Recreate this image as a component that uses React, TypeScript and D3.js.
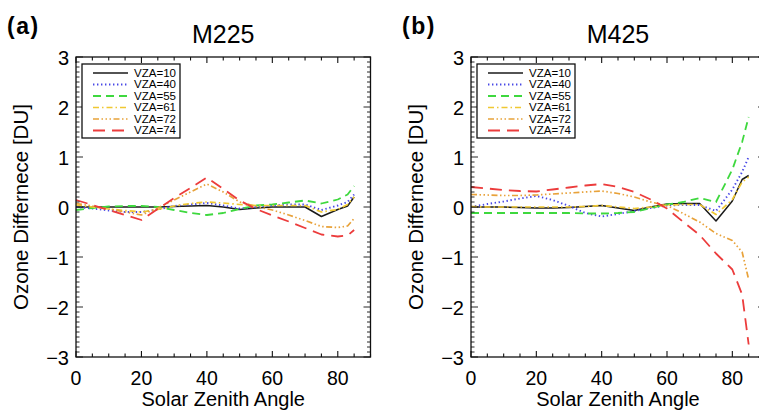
import * as d3 from "d3";

// chart size
const width = 759;
const height = 411;
const yTop = 57;
const yBottom = 357;

// x positions where the difference was sampled (deg)
const sza = [0, 5, 10, 15, 20, 25, 30, 35, 40, 45, 50, 55, 60, 65, 70, 75, 80, 83, 85];
const vzaLabels = ["VZA=10", "VZA=40", "VZA=55", "VZA=61", "VZA=72", "VZA=74"];
const xTickValues = [0, 20, 40, 60, 80];
const yTickValues = [-3, -2, -1, 0, 1, 2, 3];

// M225 panel
const m225Vza10 = [0, 0, 0, 0, 0, 0, 0.01, 0.02, 0.03, 0, -0.05, -0.02, 0, 0, 0, -0.19, -0.05, 0.02, 0.2];
const m225Vza40 = [0, -0.03, -0.07, -0.1, -0.1, -0.05, 0.02, 0.05, 0.08, 0.03, -0.03, 0, 0.03, 0.05, 0.05, -0.06, 0.03, 0.1, 0.25];
const m225Vza55 = [-0.06, -0.02, 0.01, 0.02, 0.02, 0, -0.06, -0.12, -0.16, -0.12, -0.04, 0.03, 0.05, 0.09, 0.13, 0.07, 0.15, 0.25, 0.42];
const m225Vza61 = [0.04, 0, -0.04, -0.07, -0.1, -0.05, 0.02, 0.07, 0.1, 0.08, 0.05, 0.03, 0.03, 0.03, 0.03, -0.1, -0.05, 0.05, 0.2];
const m225Vza72 = [0.07, 0.02, -0.04, -0.1, -0.16, -0.02, 0.14, 0.3, 0.46, 0.3, 0.1, 0.01, -0.06, -0.16, -0.27, -0.39, -0.41, -0.38, -0.23];
const m225Vza74 = [0.14, 0.04, -0.06, -0.16, -0.26, -0.04, 0.18, 0.38, 0.59, 0.36, 0.13, -0.04, -0.17, -0.29, -0.42, -0.55, -0.59, -0.57, -0.46];

// M425 panel
const m425Vza10 = [0, 0, 0, -0.01, -0.02, -0.02, -0.01, 0.01, 0.03, -0.02, -0.07, 0, 0.06, 0.07, 0.07, -0.28, 0.12, 0.55, 0.63];
const m425Vza40 = [0, 0.06, 0.11, 0.17, 0.22, 0.14, 0.02, -0.12, -0.19, -0.14, -0.08, -0.02, 0.03, 0.04, 0.04, -0.08, 0.35, 0.7, 1.0];
const m425Vza55 = [-0.12, -0.12, -0.12, -0.12, -0.12, -0.12, -0.12, -0.13, -0.13, -0.12, -0.1, -0.02, 0.05, 0.1, 0.18, 0.1, 0.75, 1.3, 1.8];
const m425Vza61 = [0.01, 0, 0, 0, 0, 0, 0, 0.01, 0.03, 0, -0.03, 0, 0.04, 0.05, 0.05, -0.15, 0.15, 0.5, 0.6];
const m425Vza72 = [0.25, 0.24, 0.23, 0.23, 0.24, 0.26, 0.28, 0.3, 0.32, 0.27, 0.2, 0.1, 0.03, -0.13, -0.3, -0.53, -0.67, -0.9, -1.45];
const m425Vza74 = [0.4, 0.37, 0.34, 0.32, 0.31, 0.35, 0.39, 0.43, 0.46, 0.4, 0.3, 0.15, -0.03, -0.3, -0.56, -0.93, -1.25, -1.75, -2.75];

const styles = [
  { color: "#1a1a1a", dash: "none", w: 1.5 },
  { color: "#4848e6", dash: "1.4,2.6", w: 1.9 },
  { color: "#3ed83e", dash: "8,5", w: 1.8 },
  { color: "#f0c832", dash: "6,3,1.5,3", w: 1.7 },
  { color: "#e8a23a", dash: "6,2.5,1.5,2.5,1.5,2.5,1.5,2.5", w: 1.7 },
  { color: "#ec3c3c", dash: "12,7", w: 1.8 },
];

const panels = [
  { tag: "(a)", title: "M225", left: 76, right: 370.5, series: [m225Vza10, m225Vza40, m225Vza55, m225Vza61, m225Vza72, m225Vza74] },
  { tag: "(b)", title: "M425", left: 471, right: 765, series: [m425Vza10, m425Vza40, m425Vza55, m425Vza61, m425Vza72, m425Vza74] },
];

const font = "'Liberation Sans', Arial, Helvetica, sans-serif";

const Panel = ({ p }: { p: (typeof panels)[number] }) => {
  const x = d3.scaleLinear().domain([0, 90]).range([p.left, p.right]);
  const y = d3.scaleLinear().domain([-3, 3]).range([yBottom, yTop]);
  const line = d3
    .line<number>()
    .x((_, i) => x(sza[i]))
    .y((d) => y(d));

  const xMinor = d3.range(0, 91, 5);
  const yMinor = d3.range(-30, 31).map((v) => v / 10);
  const legX = p.left + 6;
  const legTop = 64;
  const rowH = 11.5;

  return (
    <g>
      <text x={p.left - 69} y={34} fontSize={23} fontWeight="bold" letterSpacing={1.5} fontFamily={font}>{p.tag}</text>
      <text x={(p.left + p.right) / 2} y={43} fontSize={25} textAnchor="middle" fontFamily={font}>{p.title}</text>

      {/* data lines */}
      {p.series.map((s, i) => (
        <path key={i} d={line(s) ?? ""} fill="none" stroke={styles[i].color} strokeWidth={styles[i].w}
          strokeDasharray={styles[i].dash} strokeLinejoin="round" />
      ))}

      {/* frame */}
      <rect x={p.left} y={yTop} width={p.right - p.left} height={yBottom - yTop} fill="none" stroke="#111" strokeWidth={1.3} />

      {/* x ticks, bottom and top */}
      {xMinor.map((v) => {
        const len = v % 20 === 0 ? 6 : 3.5;
        return (
          <g key={"x" + v} stroke="#111" strokeWidth={1.1}>
            <line x1={x(v)} x2={x(v)} y1={yBottom} y2={yBottom - len} />
            <line x1={x(v)} x2={x(v)} y1={yTop} y2={yTop + len} />
          </g>
        );
      })}
      {/* y ticks, left and right */}
      {yMinor.map((v, i) => {
        const len = i % 10 === 0 ? 7 : 3.5;
        return (
          <g key={"y" + i} stroke="#111" strokeWidth={0.9}>
            <line x1={p.left} x2={p.left + len} y1={y(v)} y2={y(v)} />
            <line x1={p.right} x2={p.right - len} y1={y(v)} y2={y(v)} />
          </g>
        );
      })}

      {xTickValues.map((v) => (
        <text key={"xl" + v} x={x(v)} y={385} fontSize={19.5} textAnchor="middle" fontFamily={font}>{v}</text>
      ))}
      {yTickValues.map((v) => (
        <text key={"yl" + v} x={p.left - 7} y={y(v) + 7.5} fontSize={20} textAnchor="end" fontFamily={font}>
          {v < 0 ? "\u2212" + Math.abs(v) : v}
        </text>
      ))}

      <text x={(p.left + p.right) / 2} y={406} fontSize={20} textAnchor="middle" fontFamily={font}>Solar Zenith Angle</text>
      <text transform={`translate(${p.left - 48},${(yTop + yBottom) / 2}) rotate(-90)`} fontSize={20.5}
        textAnchor="middle" fontFamily={font}>Ozone Differnece [DU]</text>

      {/* legend */}
      <rect x={legX} y={legTop} width={98} height={74} fill="#fff" stroke="#111" strokeWidth={1.3} />
      {vzaLabels.map((lab, i) => {
        const ly = legTop + 9 + i * rowH;
        return (
          <g key={lab}>
            <line x1={legX + 11} x2={legX + 46} y1={ly} y2={ly} stroke={styles[i].color}
              strokeWidth={styles[i].w} strokeDasharray={styles[i].dash} />
            <text x={legX + 52} y={ly + 3.8} fontSize={10} textLength={42} lengthAdjust="spacingAndGlyphs"
              fontFamily={font}>{lab}</text>
          </g>
        );
      })}
    </g>
  );
};

const App = () => {
  return (
    <svg width={width} height={height} style={{ position: "absolute", left: 0, top: 0, background: "#fff" }}>
      <rect width={width} height={height} fill="#fff" />
      {panels.map((p) => (
        <Panel key={p.title} p={p} />
      ))}
    </svg>
  );
};

export default App;
